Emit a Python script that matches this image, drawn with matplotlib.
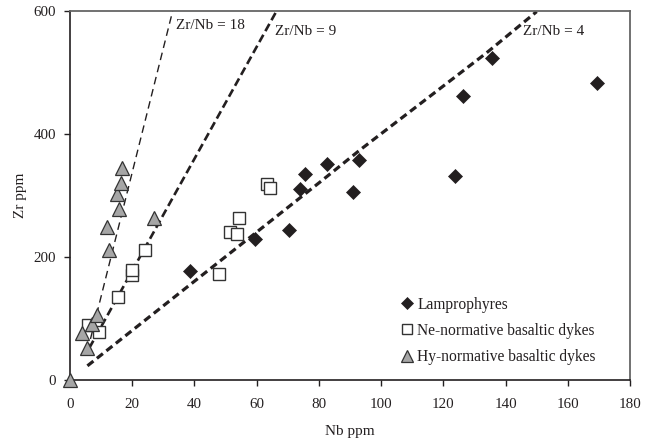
import matplotlib
matplotlib.use("Agg")
import matplotlib.pyplot as plt

plt.rcParams['font.family'] = ['Liberation Serif', 'DejaVu Serif']
plt.rcParams['lines.scale_dashes'] = False

# --- data (Nb ppm, Zr ppm) ---
lamp_nb = [38.6, 59.5, 70.5, 73.9, 75.5, 82.6, 91.1, 93.0, 123.7, 126.2, 135.5, 169.4]
lamp_zr = [178, 230, 244, 311, 335, 352, 306, 358, 331, 462, 524, 483]

ne_nb = [5.9, 9.4, 15.5, 19.8, 19.8, 24.0, 47.9, 51.4, 53.7, 54.4, 63.2, 64.4]
ne_zr = [89, 78.5, 135, 171, 179, 211, 172, 240, 238, 263, 318, 312]

hy_nb = [0.0, 3.8, 5.4, 7.0, 8.6, 12.0, 12.5, 15.2, 15.8, 16.3, 16.6, 27.1]
hy_zr = [0, 76, 51.5, 91, 106, 248, 211, 303, 278, 321, 344, 264]

# reference ratio lines (endpoints as drawn)
line18_nb = [5.6, 33.0]
line18_zr = [47, 600]
line9_nb = [6.2, 66.4]
line9_zr = [52, 600]
line4_nb = [5.6, 32.1, 80.4, 93.2, 133.9, 150.0]
line4_zr = [23, 129, 322, 374, 532, 599]

labels = ["Lamprophyres", "Ne-normative basaltic dykes", "Hy-normative basaltic dykes"]
xticks = [0, 20, 40, 60, 80, 100, 120, 140, 160, 180]
yticks = [0, 200, 400, 600]

ink = '#231f20'

fig = plt.figure(figsize=(6.56, 4.45), dpi=100)
ax = fig.add_axes([0.1067, 0.1461, 0.8537, 0.8292])

ax.plot(line18_nb, line18_zr, color=ink, lw=1.0, dashes=(5.5, 3.5))
ax.plot(line9_nb, line9_zr, color=ink, lw=1.9, dashes=(6, 3))
ax.plot(line4_nb, line4_zr, color=ink, lw=2.3, dashes=(5.5, 3.2))

ax.plot(lamp_nb, lamp_zr, 'D', ms=7.4, mfc=ink, mec=ink, mew=0.5,
        ls='none', label=labels[0], clip_on=False, zorder=4)
ax.plot(ne_nb, ne_zr, 's', ms=8.8, mfc='white', mec='#333333', mew=1.0,
        ls='none', label=labels[1], clip_on=False, zorder=4)
ax.plot(hy_nb, hy_zr, '^', ms=9.5, mfc='#a6a6a6', mec='#333333', mew=0.9,
        ls='none', label=labels[2], clip_on=False, zorder=5)

ax.text(34.1, 577, "Zr/Nb = 18", fontsize=11, color=ink, va='center', ha='left')
ax.text(65.9, 566, "Zr/Nb = 9", fontsize=11, color=ink, va='center', ha='left')
ax.text(145.7, 566, "Zr/Nb = 4", fontsize=11, color=ink, va='center', ha='left')

ax.set_xlim(0, 180)
ax.set_ylim(0, 600)
ax.set_xticks(xticks)
ax.set_yticks(yticks)
ax.tick_params(direction='out', length=4, width=1, colors=ink, labelsize=10.8)
ax.tick_params(axis='x', pad=9)
ax.tick_params(axis='y', pad=6)
ax.set_xlabel("Nb ppm", fontsize=11, color=ink, labelpad=10)
ax.set_ylabel("Zr ppm", fontsize=11, color=ink, labelpad=5)

for s in ['left', 'bottom']:
    ax.spines[s].set_color(ink)
    ax.spines[s].set_linewidth(1.2)
for s in ['top', 'right']:
    ax.spines[s].set_color('#666666')
    ax.spines[s].set_linewidth(1.3)

leg = ax.legend(loc='upper left', bbox_to_anchor=(0.594, 0.226), frameon=False,
                fontsize=11.2, handlelength=0.6, handletextpad=0.35,
                labelspacing=0.66, borderpad=0, borderaxespad=0, markerscale=0.85)
for t in leg.get_texts():
    t.set_color(ink)

fig.savefig("out.png", dpi=100)
